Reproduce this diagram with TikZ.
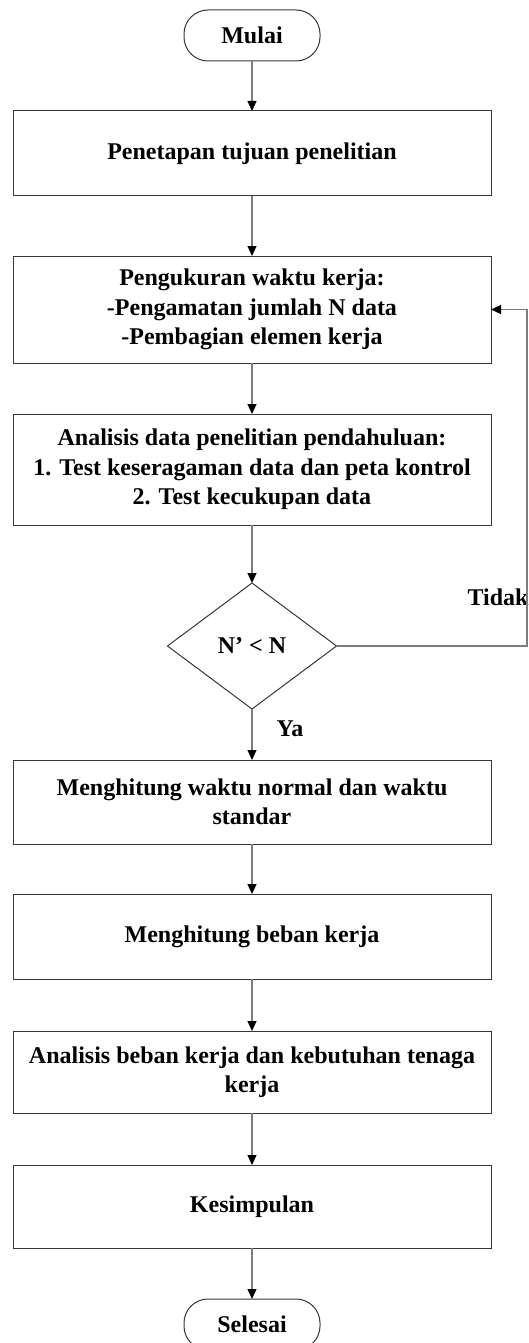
\documentclass[tikz,border=0pt]{standalone}
\usepackage{fontspec}
\setmainfont{Liberation Serif}
\usetikzlibrary{shapes,arrows.meta,positioning,calc}
\definecolor{edgegray}{RGB}{55,55,55}
\definecolor{linegray}{RGB}{125,125,125}

\begin{document}
\begin{tikzpicture}[
    x=1pt, y=-1pt,
    font=\fontsize{24}{29.5}\selectfont\bfseries,
    block/.style={rectangle, draw=edgegray, line width=1pt, outer sep=0pt, minimum width=478pt, align=center},
    term/.style={rectangle, rounded corners=24pt, draw=edgegray, line width=1pt, outer sep=0pt, minimum width=136pt, minimum height=51pt},
    decision/.style={diamond, draw=edgegray, line width=1pt, outer sep=0pt, minimum width=169pt, minimum height=126pt, inner sep=0pt},
    arrow/.style={-{Triangle[length=10pt,width=9pt,color=black]}, draw=linegray, line width=1.2pt},
    lbl/.style={inner sep=0pt}
]
\useasboundingbox (0,0) rectangle (528,1343);

\node[term] (mulai) at (252,35.5) {Mulai};
\node[block, minimum height=85pt, below=50pt of mulai] (tujuan) {Penetapan tujuan penelitian};
\node[block, minimum height=107pt, below=60pt of tujuan] (ukur) {Pengukuran waktu kerja:\\-Pengamatan jumlah N data\\-Pembagian elemen kerja};
\node[block, minimum height=111pt, below=51pt of ukur] (analisis) {Analisis data penelitian pendahuluan:\\1. Test keseragaman data dan peta kontrol\\2. Test kecukupan data};
\node[decision, below=58pt of analisis] (cek) {N’ < N};
\node[block, minimum height=84pt, below=51pt of cek] (normal) {Menghitung waktu normal dan waktu\\standar};
\node[block, minimum height=85pt, below=50pt of normal] (beban) {Menghitung beban kerja};
\node[block, minimum height=82pt, below=52pt of beban] (tenaga) {Analisis beban kerja dan kebutuhan tenaga\\kerja};
\node[block, minimum height=83pt, below=52pt of tenaga] (simpul) {Kesimpulan};
\node[term, below=51pt of simpul] (selesai) {Selesai};

\coordinate (balik) at (527,0);
\node[lbl, anchor=base] (tidak) at (498,605) {Tidak};
\node[lbl, anchor=base] (ya) at (290,736) {Ya};

\draw[arrow] (mulai) -- (tujuan);
\draw[arrow] (tujuan) -- (ukur);
\draw[arrow] (ukur) -- (analisis);
\draw[arrow] (analisis) -- (cek);
\draw[arrow] (cek) -- (normal);
\draw[arrow] (normal) -- (beban);
\draw[arrow] (beban) -- (tenaga);
\draw[arrow] (tenaga) -- (simpul);
\draw[arrow] (simpul) -- (selesai);
\draw[arrow] (cek.east) -- (cek.east -| balik) |- (ukur.east);
\end{tikzpicture}
\end{document}
